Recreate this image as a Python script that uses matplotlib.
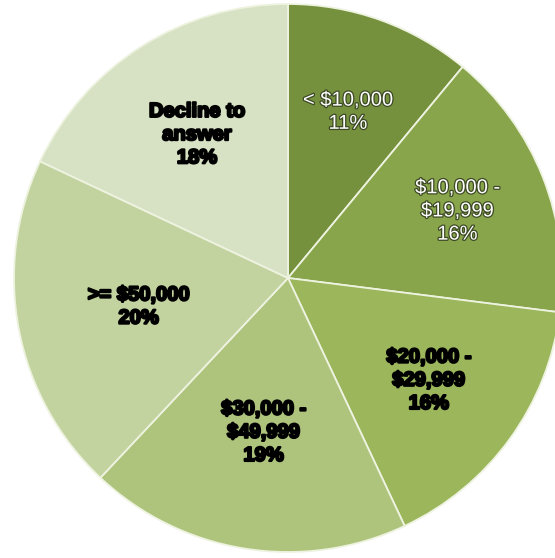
import matplotlib
matplotlib.use('Agg')
import numpy as np
import matplotlib.pyplot as plt
import matplotlib.patheffects as pe

# Income brackets and their shares (%)
labels = ['< $10,000', '$10,000 -\n$19,999', '$20,000 -\n$29,999',
          '$30,000 -\n$49,999', '>= $50,000', 'Decline to\nanswer']
shares = [11, 16, 16, 19, 20, 18]
colors = ['#76913e', '#88a54b', '#9bb65b', '#aec47d', '#c3d3a0', '#d7e2c4']
text_colors = ['white', 'white', 'black', 'black', 'black', 'black']
# how far out each label sits, as a fraction of the radius
label_r = [0.645, 0.665, 0.635, 0.57, 0.555, 0.62]

W, H = 555, 558
cx, cy, R = 288, 278, 274

fig = plt.figure(figsize=(W / 100, H / 100), dpi=100)
ax = fig.add_axes([0, 0, 1, 1])

wedges, _ = ax.pie(shares, colors=colors, startangle=90, counterclock=False,
                   radius=1, wedgeprops=dict(edgecolor='#eef3e0', linewidth=1.3))
ax.set_aspect('auto')
ax.set_xlim(-cx / R, (W - cx) / R)
ax.set_ylim(-(H - cy) / R, cy / R)
ax.axis('off')

for w, lab, s, tc, r in zip(wedges, labels, shares, text_colors, label_r):
    mid = np.deg2rad((w.theta1 + w.theta2) / 2)
    x, y = r * np.cos(mid), r * np.sin(mid)
    if tc == 'white':
        effects = [pe.withStroke(linewidth=1.8, foreground='#3d4a25')]
        weight = 'normal'
    else:
        effects = [pe.withStroke(linewidth=1.6, foreground='black')]
        weight = 'bold'
    ax.text(x, y, f'{lab}\n{s}%', ha='center', va='center', color=tc,
            fontsize=14.5, fontweight=weight, family='Liberation Sans',
            linespacing=1.28, path_effects=effects)

fig.savefig('out.png', dpi=100)
